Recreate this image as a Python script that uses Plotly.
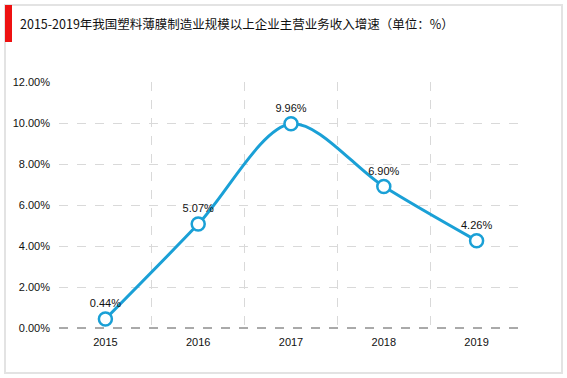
import plotly.graph_objects as go

years = [2015, 2016, 2017, 2018, 2019]
growth = [0.44, 5.07, 9.96, 6.90, 4.26]
labels = ["0.44%", "5.07%", "9.96%", "6.90%", "4.26%"]
y_ticks = [0, 2, 4, 6, 8, 10, 12]
y_tick_text = ["0.00%", "2.00%", "4.00%", "6.00%", "8.00%", "10.00%", "12.00%"]
title_text = "2015-2019年我国塑料薄膜制造业规模以上企业主营业务收入增速（单位：%）"

W, H = 567, 378
L, R, T, B = 59, 523, 82, 328
pw, ph = R - L, B - T

def px(x):
    return (x - L) / pw

def py(y):
    return (B - y) / ph

color = "#1aa0d6"

fig = go.Figure()
fig.add_trace(go.Scatter(
    x=years, y=growth, mode="lines+markers+text",
    text=labels, textposition="top center",
    textfont=dict(size=11, color="#111", family="Liberation Sans, Arial"),
    line=dict(color=color, width=3, shape="spline", smoothing=0.9),
    marker=dict(size=13, color="white", line=dict(color=color, width=2.5)),
    cliponaxis=False, hoverinfo="skip",
))

fig.update_layout(
    width=W, height=H,
    margin=dict(l=L, r=W - R, t=T, b=H - B),
    paper_bgcolor="white", plot_bgcolor="white",
    showlegend=False,
    font=dict(family="Liberation Sans, Arial", size=11, color="#222"),
    xaxis=dict(
        range=[2014.5, 2019.5], tickvals=years, ticktext=[str(y) for y in years],
        showgrid=False, zeroline=False, showline=False, ticks="",
        tickfont=dict(size=11, color="#111"), ticklabelstandoff=6,
        minor=dict(tickvals=[2014.5, 2015.5, 2016.5, 2017.5, 2018.5, 2019.5],
                   showgrid=True, gridcolor="#d9d9d9", griddash="dash", gridwidth=1),
    ),
    yaxis=dict(
        range=[0, 12], tickvals=y_ticks, ticktext=y_tick_text,
        showgrid=True, gridcolor="#d9d9d9", griddash="dash", gridwidth=1,
        zeroline=False, showline=False, ticks="",
        tickfont=dict(size=11, color="#111"), ticklabelstandoff=8,
    ),
)

shapes = [
    dict(type="rect", xref="paper", yref="paper",
         x0=px(5), x1=px(562), y0=py(373), y1=py(5),
         line=dict(color="#e3e3e3", width=2), fillcolor="rgba(0,0,0,0)", layer="below"),
    dict(type="rect", xref="paper", yref="paper",
         x0=px(5), x1=px(12), y0=py(42), y1=py(5),
         line=dict(width=0), fillcolor="#ee1111"),
    dict(type="line", xref="paper", yref="paper",
         x0=0, x1=1, y0=0, y1=0,
         line=dict(color="#555", width=1, dash="dash")),
]
fig.update_layout(shapes=shapes)

fig.add_annotation(
    xref="paper", yref="paper", x=px(18), y=py(24),
    xanchor="left", yanchor="middle", showarrow=False,
    text=title_text,
    font=dict(family="Noto Sans CJK SC, Liberation Sans", size=12.5, color="#111"),
)

fig.write_html("out.html", config={"displayModeBar": False},
               post_script="document.body.style.margin='0px';")
